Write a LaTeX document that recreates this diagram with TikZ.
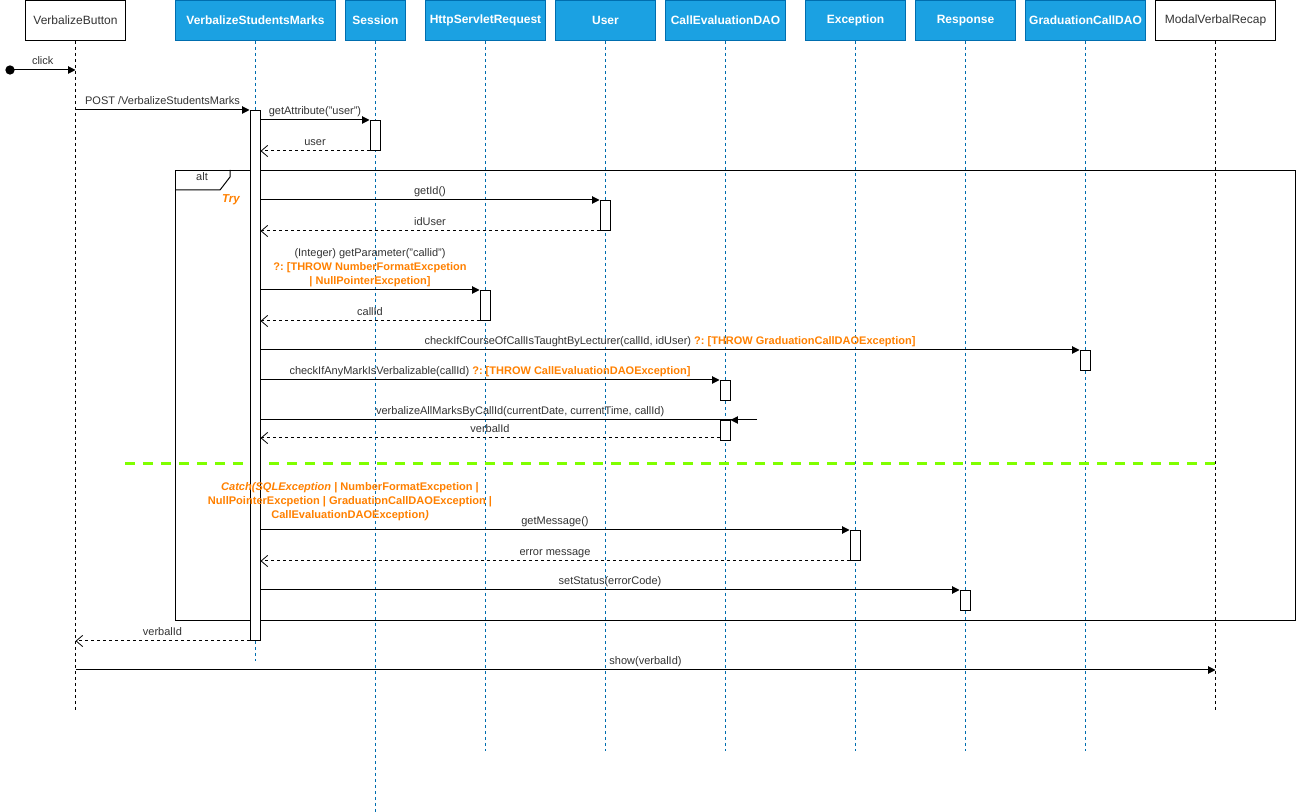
\documentclass[tikz,border=0pt]{standalone}
\usepackage{fontspec}
\setmainfont{Liberation Sans}
\usetikzlibrary{arrows.meta}
\definecolor{hdrfill}{HTML}{1BA1E2}
\definecolor{hdrline}{HTML}{006EAF}
\definecolor{warn}{HTML}{FF8000}
\definecolor{sepgreen}{HTML}{80FF00}
\definecolor{txt}{HTML}{333333}
\frenchspacing
\begin{document}
\begin{tikzpicture}[x=0.75pt,y=-0.75pt,
  headbox/.style={draw=hdrline, fill=hdrfill, text=white, line width=0.75pt,
    font=\fontsize{9}{11}\selectfont\bfseries, minimum height=30pt,
    inner sep=0pt, anchor=north west},
  headwhite/.style={headbox, draw=black, fill=white, text=txt,
    font=\fontsize{9}{11}\selectfont},
  lifeblue/.style={draw=hdrline, line width=0.75pt, dash pattern=on 2.25pt off 2.25pt},
  lifeblack/.style={lifeblue, draw=black},
  actbar/.style={draw=black, fill=white, line width=0.75pt, minimum width=7.5pt,
    inner sep=0pt, anchor=north},
  callmsg/.style={draw=black, line width=0.75pt, -{Triangle[length=5.5pt,width=5.5pt]}},
  retmsg/.style={draw=black, line width=0.75pt, dash pattern=on 2.25pt off 2.25pt,
    -{Straight Barb[length=5pt,width=8.5pt,line width=0.6pt]}},
  lbl/.style={font=\fontsize{8.25}{10.5}\selectfont, text=txt, inner sep=0pt,
    text height=6pt, text depth=1.8pt, anchor=south, yshift=1.6pt},
  lblmulti/.style={font=\fontsize{8.25}{10.5}\selectfont, text=txt, inner sep=0pt,
    align=center, anchor=south, yshift=1.6pt},
  framebox/.style={draw=black, line width=0.75pt, inner sep=0pt, anchor=north west},
  separator/.style={draw=sepgreen, line width=2.25pt, dash pattern=on 7.5pt off 6pt}
]
\useasboundingbox (0,0) rectangle (1297,812);

% participant heads
\node[headwhite, minimum width=75pt] (vb)  at (25,0)   {VerbalizeButton};
\node[headbox,   minimum width=120pt] (vsm) at (175,0) {VerbalizeStudentsMarks};
\node[headbox,   minimum width=45pt] (ses) at (345,0)  {Session};
\node[headbox,   minimum width=90pt] (req) at (425,0)  {HttpServletRequest};
\node[headbox,   minimum width=75pt] (usr) at (555,0)  {User};
\node[headbox,   minimum width=90pt] (ced) at (665,0)  {CallEvaluationDAO};
\node[headbox,   minimum width=75pt] (exn) at (805,0)  {Exception};
\node[headbox,   minimum width=75pt] (res) at (915,0)  {Response};
\node[headbox,   minimum width=90pt] (gcd) at (1025,0) {GraduationCallDAO};
\node[headwhite, minimum width=90pt] (mvr) at (1155,0) {ModalVerbalRecap};

% lifelines
\draw[lifeblack] (vb.south)  -- ++(0,670);
\draw[lifeblue]  (vsm.south) -- ++(0,620);
\draw[lifeblue]  (ses.south) -- ++(0,772);
\draw[lifeblue]  (req.south) -- ++(0,710);
\draw[lifeblue]  (usr.south) -- ++(0,710);
\draw[lifeblue]  (ced.south) -- ++(0,710);
\draw[lifeblue]  (exn.south) -- ++(0,710);
\draw[lifeblue]  (res.south) -- ++(0,710);
\draw[lifeblue]  (gcd.south) -- ++(0,710);
\draw[lifeblack] (mvr.south) -- ++(0,670);

% alt combined fragment
\node[framebox, minimum width=840pt, minimum height=337.5pt] (alt) at (175,170) {};
\draw[line width=0.75pt] (alt.north west) ++(55,0) -- ++(0,7) -- ++(-10,13) -- ++(-45,0);
\node[lbl, anchor=center, yshift=0pt] (altname) at (202,180) {alt};
\node[text=warn, font=\fontsize{8.6}{10}\selectfont\bfseries\itshape] (try) at (231,200) {Try};
\draw[separator] (125,464) -- (1215,464);

% activation bars
\node[actbar, minimum height=397.5pt] (vsmA)  at (255,110)  {};
\node[actbar, minimum height=22.5pt]  (sesA)  at (375,120)  {};
\node[actbar, minimum height=22.5pt]  (usrA)  at (605,200)  {};
\node[actbar, minimum height=22.5pt]  (reqA)  at (485,290)  {};
\node[actbar, minimum height=15pt]    (gcdA)  at (1085,350) {};
\node[actbar, minimum height=15pt]    (cedA)  at (725,380)  {};
\node[actbar, minimum height=15pt]    (cedB)  at (725,420)  {};
\node[actbar, minimum height=22.5pt]  (exnA)  at (855,530)  {};
\node[actbar, minimum height=15pt]    (resA)  at (965,590)  {};

% guard of the catch operand, set over the activation bar
\node[text=warn, font=\fontsize{8.3}{10.7}\selectfont\bfseries, align=center, inner sep=0pt] (catch) at (350,501.5)
  {{\itshape Catch(SQLException} | NumberFormatExcpetion |\\
   NullPointerExcpetion | GraduationCallDAOException |\\
   CallEvaluationDAOException{\itshape )}};

% messages
\node[circle, fill=black, inner sep=0pt, minimum size=7pt] (start) at (10,70) {};
\draw[callmsg] (start.center) -- node[lbl]{click} (vb.south |- start.center);
\draw[callmsg] (vb.south |- vsmA.north) -- node[lbl]{POST /VerbalizeStudentsMarks} (vsmA.north west);
\draw[callmsg] (vsmA.east |- sesA.north) -- node[lbl]{getAttribute("user")} (sesA.north west);
\draw[retmsg]  (sesA.south west) -- node[lbl]{user} (vsmA.east |- sesA.south);
\draw[callmsg] (vsmA.east |- usrA.north) -- node[lbl]{getId()} (usrA.north west);
\draw[retmsg]  (usrA.south west) -- node[lbl]{idUser} (vsmA.east |- usrA.south);
\draw[callmsg] (vsmA.east |- reqA.north) -- node[lblmulti]{(Integer) getParameter("callid")\\
  {\color{warn}\bfseries ?: [THROW NumberFormatExcpetion}\\
  {\color{warn}\bfseries | NullPointerExcpetion]}} (reqA.north west);
\draw[retmsg]  (reqA.south west) -- node[lbl]{callId} (vsmA.east |- reqA.south);
\draw[callmsg] (vsmA.east |- gcdA.north) -- node[lbl]{checkIfCourseOfCallIsTaughtByLecturer(callId, idUser)
  {\color{warn}\bfseries ?: [THROW GraduationCallDAOException]}} (gcdA.north west);
\draw[callmsg] (vsmA.east |- cedA.north) -- node[lbl]{checkIfAnyMarkIsVerbalizable(callId)
  {\color{warn}\bfseries ?: [THROW CallEvaluationDAOException]}} (cedA.north west);
\coordinate (found) at (757,420);
\draw[line width=0.75pt] (vsmA.east |- cedB.north) -- node[lbl, pos=0.523]{verbalizeAllMarksByCallId(currentDate, currentTime, callId)} (found);
\draw[callmsg] (found) -- (cedB.north east);
\coordinate (vret) at (700,438);
\draw[retmsg]  (cedB.west |- vret) -- node[lbl]{verbalId} (vsmA.east |- vret);
\draw[callmsg] (vsmA.east |- exnA.north) -- node[lbl]{getMessage()} (exnA.north west);
\draw[retmsg]  (exnA.south west) -- node[lbl]{error message} (vsmA.east |- exnA.south);
\draw[callmsg] (vsmA.east |- resA.north) -- node[lbl]{setStatus(errorCode)} (resA.north west);
\draw[retmsg]  (vsmA.south west) -- node[lbl]{verbalId} (vb.south |- vsmA.south);
\coordinate (showy) at (0,670);
\draw[callmsg] (vb.south |- showy) -- node[lbl]{show(verbalId)} (mvr.south |- showy);
\end{tikzpicture}
\end{document}
